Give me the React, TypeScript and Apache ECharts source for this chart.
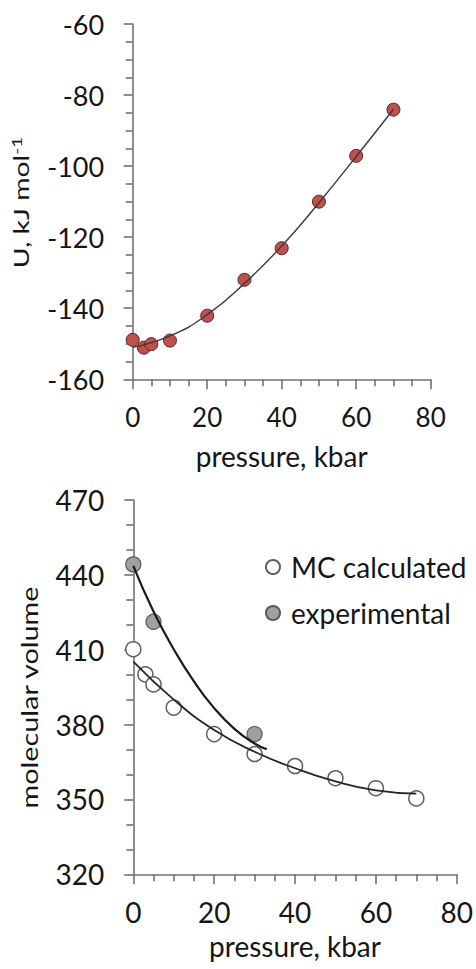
import React, { useEffect, useRef } from 'react';
import * as echarts from 'echarts';

// ---- Top panel: internal energy vs pressure ----
const pressureU = [0, 3, 5, 10, 20, 30, 40, 50, 60, 70];
const energyU = [-148.9, -151.1, -150.1, -149.1, -142.1, -132, -123.1, -110, -97.1, -84.1];
const fitPressureU = [0, 10, 20, 30, 40, 50, 60, 70];
const fitEnergyU = [-151, -147.8, -141.8, -133, -122.5, -110.3, -97.3, -84];

// ---- Bottom panel: molecular volume vs pressure ----
const pressureMC = [0, 3, 5, 10, 20, 30, 40, 50, 60, 70];
const volumeMC = [410.2, 400.1, 396.1, 386.8, 376.2, 368.2, 363.4, 358.5, 354.5, 350.4];
const pressureExp = [0, 5, 30];
const volumeExp = [444.2, 421.2, 376.2];
const fitPressureMC = [0, 10, 20, 30, 40, 50, 60, 70];
const fitVolumeMC = [405.2, 390, 377.8, 369.1, 362.5, 357.2, 353.6, 352.3];
const fitPressureExp = [0, 5, 10, 15, 20, 25, 30, 33];
const fitVolumeExp = [443.6, 425.3, 410.2, 397.3, 386.6, 378.3, 372.4, 370.1];

const legendNames = ['MC calculated', 'experimental'];

const FONT = 'Lato';
const AXIS = '#737373';
const TEXT = '#161616';

const pairs = (xs: number[], ys: number[]) => xs.map((x, i) => [x, ys[i]]);

const xAxisOf = (gridIndex: number, fontSize: number, margin: number, nameSize: number, nameGap: number) => ({
  type: 'value',
  gridIndex,
  min: 0,
  max: 80,
  interval: 20,
  name: 'pressure, kbar',
  nameLocation: 'middle',
  nameGap,
  nameTextStyle: { fontFamily: FONT, fontSize: nameSize, color: TEXT },
  axisLine: { show: true, onZero: false, lineStyle: { color: AXIS, width: 1.6 } },
  axisTick: { show: true, length: 10, lineStyle: { color: AXIS, width: 1.6 } },
  minorTick: { show: true, splitNumber: 4, length: 7, lineStyle: { color: AXIS, width: 1.6 } },
  axisLabel: { fontFamily: FONT, fontSize, color: TEXT, margin },
  splitLine: { show: false },
  minorSplitLine: { show: false },
});

const yAxisOf = (gridIndex: number, min: number, max: number, interval: number, minorSplit: number, fontSize: number, margin: number) => ({
  type: 'value',
  gridIndex,
  min,
  max,
  interval,
  axisLine: { show: true, onZero: false, lineStyle: { color: AXIS, width: 1.6 } },
  axisTick: { show: true, length: 9, lineStyle: { color: AXIS, width: 1.6 } },
  minorTick: { show: true, splitNumber: minorSplit, length: 7, lineStyle: { color: AXIS, width: 1.6 } },
  axisLabel: { fontFamily: FONT, fontSize, color: TEXT, margin },
  splitLine: { show: false },
  minorSplitLine: { show: false },
});

export default function App() {
  const ref = useRef<HTMLDivElement>(null);
  useEffect(() => {
    if (!ref.current) return;
    const chart = echarts.init(ref.current, undefined, { renderer: 'svg' });
    chart.setOption({
      animation: false,
      backgroundColor: '#ffffff',
      grid: [
        { left: 132.7, top: 24, width: 298, height: 355.3 },
        { left: 133.3, top: 500, width: 326.7, height: 374.3 },
      ],
      xAxis: [xAxisOf(0, 26, 25, 28, 63), xAxisOf(1, 28, 24, 28, 58)],
      yAxis: [
        yAxisOf(0, -160, -60, 20, 4, 27, 28.5),
        yAxisOf(1, 320, 470, 30, 3, 28, 29),
      ],
      legend: {
        data: legendNames,
        orient: 'vertical',
        left: 265,
        top: 553,
        padding: 0,
        itemWidth: 26,
        itemHeight: 14,
        itemGap: 18,
        selectedMode: false,
        textStyle: { fontFamily: FONT, fontSize: 28, color: TEXT, lineHeight: 28 },
      },
      graphic: [
        {
          type: 'text',
          x: 20.6,
          y: 202.5,
          rotation: Math.PI / 2,
          scaleX: 1.35,
          style: {
            text: '{m|U, kJ mol}{s|-1}',
            align: 'center',
            verticalAlign: 'middle',
            fill: TEXT,
            rich: {
              m: { fontFamily: FONT, fontSize: 21, lineHeight: 21, fill: TEXT },
              s: { fontFamily: FONT, fontSize: 14, lineHeight: 14, fill: TEXT, verticalAlign: 'top' },
            },
          },
        },
        {
          type: 'text',
          x: 29.4,
          y: 697.5,
          rotation: Math.PI / 2,
          scaleX: 1.2,
          style: {
            text: 'molecular volume',
            fontFamily: FONT,
            fontSize: 24,
            fill: TEXT,
            align: 'center',
            verticalAlign: 'middle',
          },
        },
      ],
      series: [
        {
          name: 'U data',
          type: 'scatter',
          xAxisIndex: 0,
          yAxisIndex: 0,
          data: pairs(pressureU, energyU),
          symbol: 'circle',
          symbolSize: 13,
          itemStyle: { color: '#c0504d', borderColor: '#5b2422', borderWidth: 1, opacity: 1 },
          z: 2,
        },
        {
          name: 'U fit',
          type: 'line',
          xAxisIndex: 0,
          yAxisIndex: 0,
          data: pairs(fitPressureU, fitEnergyU),
          smooth: true,
          symbol: 'none',
          lineStyle: { color: '#3a3a3a', width: 1.4 },
          z: 3,
        },
        {
          name: 'MC calculated',
          type: 'scatter',
          xAxisIndex: 1,
          yAxisIndex: 1,
          data: pairs(pressureMC, volumeMC),
          symbol: 'circle',
          symbolSize: 15,
          itemStyle: { color: '#ffffff', borderColor: '#5f5f5f', borderWidth: 1.5, opacity: 1 },
          z: 2,
        },
        {
          name: 'experimental',
          type: 'scatter',
          xAxisIndex: 1,
          yAxisIndex: 1,
          data: pairs(pressureExp, volumeExp),
          symbol: 'circle',
          symbolSize: 15,
          itemStyle: { color: '#a0a0a0', borderColor: '#5a5a5a', borderWidth: 1.2, opacity: 1 },
          z: 2,
        },
        {
          name: 'MC fit',
          type: 'line',
          xAxisIndex: 1,
          yAxisIndex: 1,
          data: pairs(fitPressureMC, fitVolumeMC),
          smooth: true,
          symbol: 'none',
          lineStyle: { color: '#262626', width: 1.8 },
          z: 3,
        },
        {
          name: 'experimental fit',
          type: 'line',
          xAxisIndex: 1,
          yAxisIndex: 1,
          data: pairs(fitPressureExp, fitVolumeExp),
          smooth: true,
          symbol: 'none',
          lineStyle: { color: '#1a1a1a', width: 2.2 },
          z: 3,
        },
      ],
    });
    return () => chart.dispose();
  }, []);
  return (
    <div
      ref={ref}
      style={{ position: 'fixed', left: 0, top: 0, width: 476, height: 969, background: '#fff' }}
    />
  );
}
